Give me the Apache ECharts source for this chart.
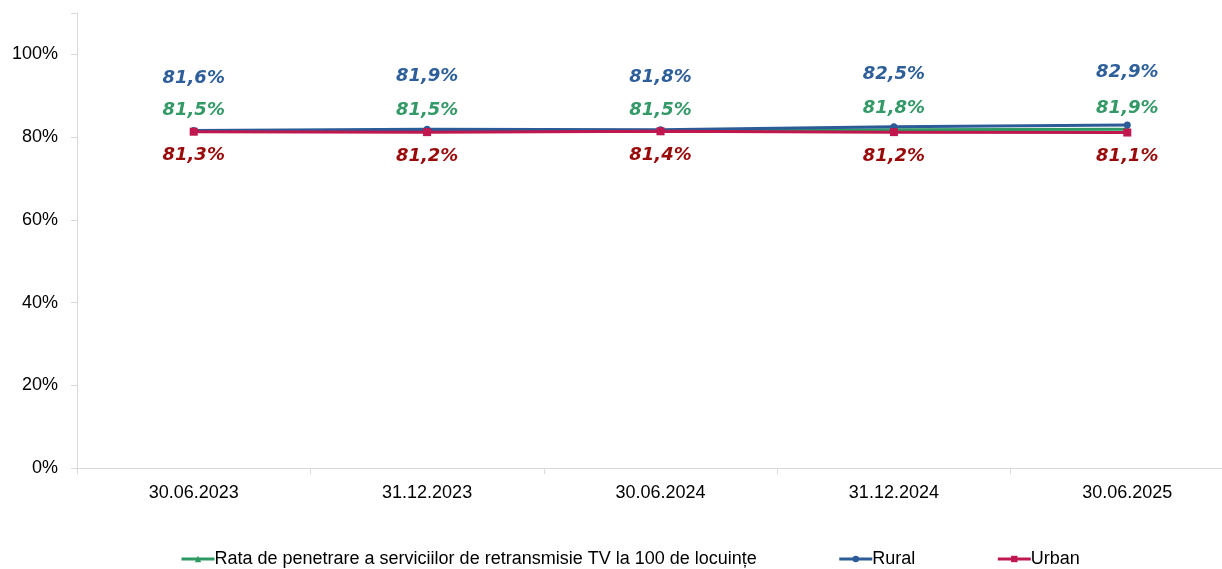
<!DOCTYPE html>
<html>
<head>
<meta charset="utf-8">
<script src="https://cdn.jsdelivr.net/npm/echarts@6/dist/echarts.min.js"></script>
<style>html,body{margin:0;padding:0;background:#fff;}#c{width:1222px;height:569px;}</style>
</head>
<body>
<div id="c"></div>
<script>
const categories = ['30.06.2023', '31.12.2023', '30.06.2024', '31.12.2024', '30.06.2025'];
const totalRate = [81.5, 81.5, 81.5, 81.8, 81.9];
const rural = [81.6, 81.9, 81.8, 82.5, 82.9];
const urban = [81.3, 81.2, 81.4, 81.2, 81.1];
const seriesNames = ['Rata de penetrare a serviciilor de retransmisie TV la 100 de locuințe', 'Rural', 'Urban'];
const yTicks = [0, 20, 40, 60, 80, 100];

const fmt = p => p.value.toFixed(1).replace('.', ',') + '%';
const labelFont = {fontFamily: 'DejaVu Sans', fontWeight: 'bold', fontStyle: 'italic', fontSize: 18};

const chart = echarts.init(document.getElementById('c'));
chart.setOption({
  animation: false,
  backgroundColor: '#fff',
  grid: {left: 77, top: 13, width: 1167, height: 455, outerBoundsMode: 'none', containLabel: false},
  legend: {
    top: 545, left: 175, itemGap: 81, itemWidth: 33, itemHeight: 8,
    lineStyle: {width: 3},
    textStyle: {fontFamily: 'Liberation Sans', fontSize: 18, color: '#000', padding: [0, 0, 0, -5]},
    data: seriesNames
  },
  xAxis: {
    type: 'category', data: categories, boundaryGap: true,
    axisLine: {lineStyle: {color: '#d9d9d9'}},
    axisTick: {show: true, length: 6, lineStyle: {color: '#d9d9d9'}},
    axisLabel: {fontFamily: 'Liberation Sans', fontSize: 18, color: '#000', margin: 16}
  },
  yAxis: {
    type: 'value', min: 0, max: 110, interval: 20,
    axisLine: {show: true, lineStyle: {color: '#d9d9d9'}},
    axisTick: {show: true, length: 6, lineStyle: {color: '#d9d9d9'}},
    splitLine: {show: false},
    axisLabel: {fontFamily: 'Liberation Sans', fontSize: 18, color: '#000', margin: 19,
      formatter: v => yTicks.includes(v) ? v + '%' : ''}
  },
  series: [
    {
      name: seriesNames[0], type: 'line', data: totalRate,
      color: '#2e9a63', symbol: 'triangle', symbolSize: 8,
      lineStyle: {width: 3, color: '#2e9a63'},
      label: Object.assign({show: true, position: 'top', distance: 8, color: '#339966', formatter: fmt}, labelFont)
    },
    {
      name: seriesNames[1], type: 'line', data: rural,
      color: '#2b5c98', symbol: 'circle', symbolSize: 7,
      lineStyle: {width: 3, color: '#2b5c98'},
      label: Object.assign({show: true, position: 'top', distance: 40, color: '#2e5f9b', formatter: fmt}, labelFont)
    },
    {
      name: seriesNames[2], type: 'line', data: urban,
      color: '#c0174e', symbol: 'rect', symbolSize: 8,
      lineStyle: {width: 3, color: '#c0174e'},
      label: Object.assign({show: true, position: 'bottom', distance: 11, color: '#990a0a', formatter: fmt}, labelFont)
    }
  ]
});
</script>
</body>
</html>
